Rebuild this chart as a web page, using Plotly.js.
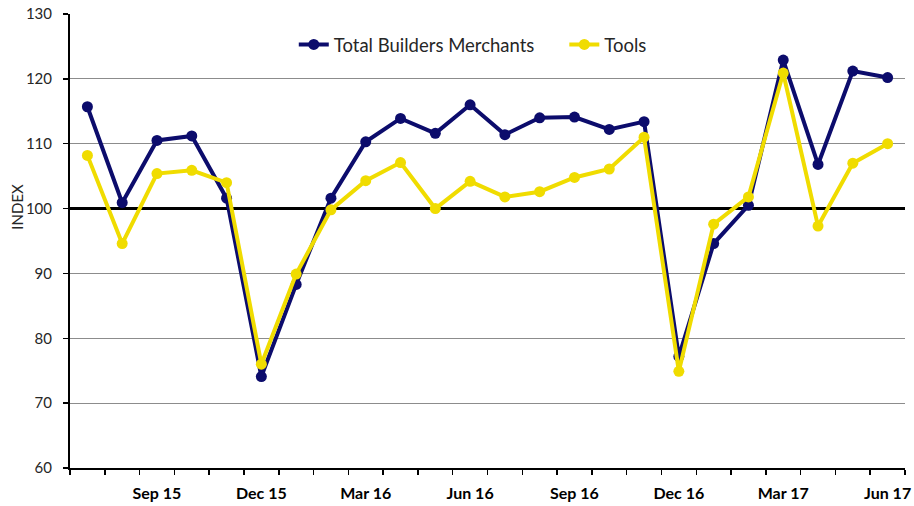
<!DOCTYPE html>
<html><head><meta charset="utf-8">
<script src="https://cdn.plot.ly/plotly-3.0.1.min.js"></script>
<style>html,body{margin:0;padding:0;background:#fff}#chart{width:914px;height:506px}</style>
</head><body><div id="chart"></div>
<script>
const months = ["Jul 15","Aug 15","Sep 15","Oct 15","Nov 15","Dec 15","Jan 16","Feb 16","Mar 16","Apr 16","May 16","Jun 16",
  "Jul 16","Aug 16","Sep 16","Oct 16","Nov 16","Dec 16","Jan 17","Feb 17","Mar 17","Apr 17","May 17","Jun 17"];
const totalBuildersMerchants = [115.7,100.9,110.5,111.2,101.6,74.1,88.3,101.6,110.3,113.9,111.6,116.0,
  111.4,114.0,114.1,112.2,113.4,77.2,94.6,100.5,122.9,106.8,121.2,120.2];
const tools = [108.2,94.6,105.4,105.9,104.0,76.0,89.9,99.8,104.3,107.1,100.0,104.2,
  101.8,102.6,104.8,106.1,111.0,74.9,97.6,101.8,120.9,97.3,107.0,110.0];
const labelledMonths = ["Sep 15","Dec 15","Mar 16","Jun 16","Sep 16","Dec 16","Mar 17","Jun 17"];
const yTicks = [60,70,80,90,100,110,120,130];
const baseline = 100;

const tickText = months.map(m => labelledMonths.includes(m) ? "<b>" + m + "</b>" : "");
const gridVals = yTicks.filter(v => v !== baseline);

const traces = [
  {x: months, y: totalBuildersMerchants, name: "Total Builders Merchants", type: "scatter", mode: "lines+markers",
   line: {color: "#0c0c6c", width: 4}, marker: {color: "#0c0c6c", size: 11}, legend: "legend"},
  {x: months, y: tools, name: "Tools", type: "scatter", mode: "lines+markers",
   line: {color: "#f0dc00", width: 4}, marker: {color: "#f0dc00", size: 11}, legend: "legend2"}
];

const legendStyle = {orientation: "h", y: 0.932, xanchor: "left", yanchor: "middle",
  font: {size: 18.5, color: "#262626"}, bgcolor: "rgba(0,0,0,0)", itemwidth: 30};

const layout = {
  width: 914, height: 506,
  margin: {l: 70, r: 9, t: 14, b: 38},
  paper_bgcolor: "#fff", plot_bgcolor: "#fff",
  font: {family: "Lato, 'Open Sans', sans-serif", color: "#222"},
  showlegend: true,
  legend: Object.assign({x: 0.268}, legendStyle),
  legend2: Object.assign({x: 0.592}, legendStyle),
  xaxis: {type: "category", tickson: "boundaries", tickmode: "array", tickvals: months, ticktext: tickText,
    tickangle: 0, ticks: "outside", ticklen: 5, tickwidth: 1.5, tickcolor: "#000",
    showline: true, linecolor: "#000", linewidth: 2, showgrid: false, zeroline: false,
    tickfont: {size: 16, color: "#000"}, ticklabelstandoff: 10, range: [-0.5, 23.5], fixedrange: true},
  yaxis: {range: [60, 130], tickmode: "array", tickvals: yTicks, ticks: "outside", ticklen: 5, tickwidth: 1.5,
    tickcolor: "#000", showline: true, linecolor: "#000", linewidth: 2, showgrid: false,
    minor: {tickmode: "array", tickvals: gridVals, showgrid: true, gridcolor: "#8c8c8c", gridwidth: 1, ticks: ""},
    zeroline: false, tickfont: {size: 15, color: "#262626"}, ticklabelstandoff: 8},
  shapes: [{type: "line", xref: "paper", x0: 0, x1: 1, yref: "y", y0: baseline, y1: baseline,
    line: {color: "#000", width: 3}, layer: "between"}],
  annotations: [{text: "INDEX", xref: "paper", yref: "paper", x: -0.077, y: 0.575, textangle: -90,
    showarrow: false, font: {size: 15, color: "#262626"}}]
};

Plotly.newPlot("chart", traces, layout, {displayModeBar: false, staticPlot: true});
</script></body></html>
